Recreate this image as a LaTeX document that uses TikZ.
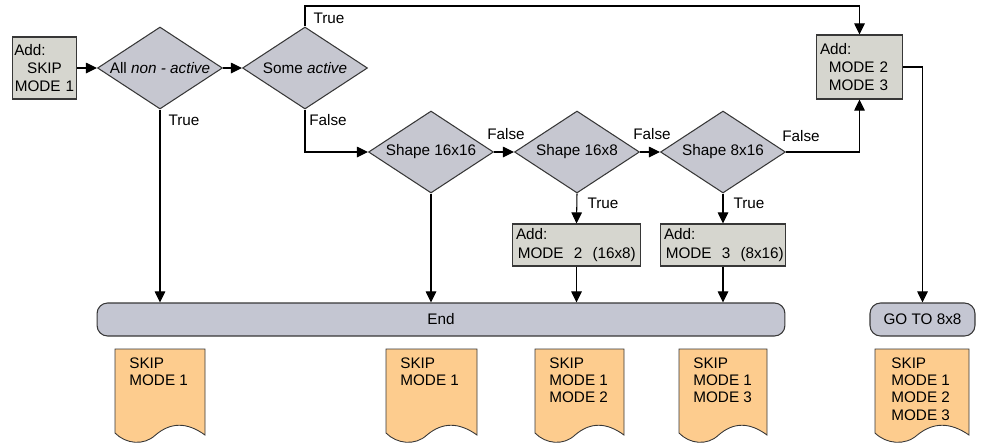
\documentclass[tikz,border=0pt]{standalone}
\usepackage{fontspec}
\setmainfont{Liberation Sans}
\usetikzlibrary{shapes.geometric,arrows.meta}
\definecolor{dia}{RGB}{198,199,208}
\definecolor{boxc}{RGB}{214,214,207}
\definecolor{endc}{RGB}{196,198,210}
\definecolor{docc}{RGB}{253,204,142}
\definecolor{bord}{RGB}{55,55,55}
\begin{document}
\begin{tikzpicture}[x=0.02cm,y=-0.02cm,
  every node/.style={font=\fontsize{8.7pt}{10.4pt}\selectfont},
  dec/.style={diamond,draw=bord,fill=dia,line width=0.6pt,inner sep=0pt,minimum width=2.5cm,minimum height=1.64cm},
  addbox/.style={rectangle,draw=bord,fill=boxc,line width=0.6pt,inner sep=2pt},
  term/.style={rectangle,rounded corners=6pt,draw=bord,fill=endc,line width=0.6pt,minimum height=0.66cm},
  arr/.style={line width=0.6pt,-{Triangle[length=6.3pt,width=6pt]}},
  lab/.style={inner sep=0pt},
  docfill/.style={fill=docc,draw=bord,line width=0.5pt},
  doctext/.style={inner sep=0pt,align=left,anchor=north west,font=\fontsize{8.7pt}{9.9pt}\selectfont}]
\useasboundingbox (0,0) rectangle (981,444);

% nodes
\node[addbox,inner sep=1pt,minimum width=1.26cm,minimum height=1.24cm,text width=1.21cm,align=center] (start) at (44.5,68) {Add:\hfill\null\\SKIP\\MODE 1};
\node[dec,label={[lab]center:All \textit{non - active}}] (d1) at (160,68) {};
\node[dec,label={[lab]center:Some \textit{active}}] (d2) at (305,68) {};
\node[dec,label={[lab]center:Shape 16x16}] (d3) at (431,152) {};
\node[dec,label={[lab]center:Shape 16x8}] (d4) at (577,152) {};
\node[dec,label={[lab]center:Shape 8x16}] (d5) at (723,152) {};
\node[addbox,minimum width=1.7cm,minimum height=1.28cm,text width=1.58cm,align=left] (addR) at (859.5,67) {Add:\\\hspace*{5pt}MODE 2\\\hspace*{5pt}MODE 3};
\node[addbox,minimum width=2.54cm,minimum height=0.84cm,text width=2.42cm,align=left] (add2) at (576.5,245) {Add:\\\hspace*{1pt}MODE~ 2~ (16x8)};
\node[addbox,minimum width=2.48cm,minimum height=0.84cm,text width=2.36cm,align=left] (add3) at (723,245) {Add:\\\hspace*{1pt}MODE~ 3~ (8x16)};
\node[term,minimum width=13.76cm] (end) at (441,319.5) {End};
\node[term,minimum width=2.1cm] (goto) at (922.5,319.5) {GO TO 8x8};
\coordinate (top) at (305,6);

% connectors
\draw[arr] (start.east) -- (d1.west);
\draw[arr] (d1.east) -- (d2.west);
\draw[arr] (d2.north) -- (top) -| (addR.north);
\draw[arr] (d1.south) -- (d1.south |- end.north);
\draw[arr] (d2.south) |- (d3.west);
\draw[arr] (d3.east) -- (d4.west);
\draw[arr] (d4.east) -- (d5.west);
\draw[arr] (d5.east) -| (addR.south);
\draw[arr] (addR.east) -| (goto.north);
\draw[arr] (d3.south) -- (d3.south |- end.north);
\draw[arr] (d4.south) -- (add2.north);
\draw[arr] (d5.south) -- (add3.north);
\draw[arr] (add2.south) -- (add2.south |- end.north);
\draw[arr] (add3.south) -- (add3.south |- end.north);

% labels
\node[lab] (t1) at (329,18) {True};
\node[lab] (t2) at (184,120) {True};
\node[lab] (f1) at (328,120) {False};
\node[lab] (f2) at (506,134) {False};
\node[lab] (f3) at (652,134) {False};
\node[lab] (f4) at (801,136) {False};
\node[lab] (t3) at (603,203) {True};
\node[lab] (t4) at (749,203) {True};

% documents
\newcommand\docshape[2]{%
  \path[docfill] (#1,349) -- (#2,349) -- (#2,435)
    .. controls ({#2-0.2*(#2-#1)},422) and ({#1+0.62*(#2-#1)},422) .. ({#1+0.45*(#2-#1)},435)
    .. controls ({#1+0.32*(#2-#1)},446) and ({#1+0.12*(#2-#1)},444) .. (#1,433) -- cycle;}
\docshape{115}{205}
\node[doctext] (doc1) at (129,357) {SKIP\\MODE 1};
\docshape{386}{477}
\node[doctext] (doc2) at (400,357) {SKIP\\MODE 1};
\docshape{535}{624}
\node[doctext] (doc3) at (549,357) {SKIP\\MODE 1\\MODE 2};
\docshape{679}{767}
\node[doctext] (doc4) at (693,357) {SKIP\\MODE 1\\MODE 3};
\docshape{875}{969}
\node[doctext] (doc5) at (891,357) {SKIP\\MODE 1\\MODE 2\\MODE 3};
\end{tikzpicture}
\end{document}
